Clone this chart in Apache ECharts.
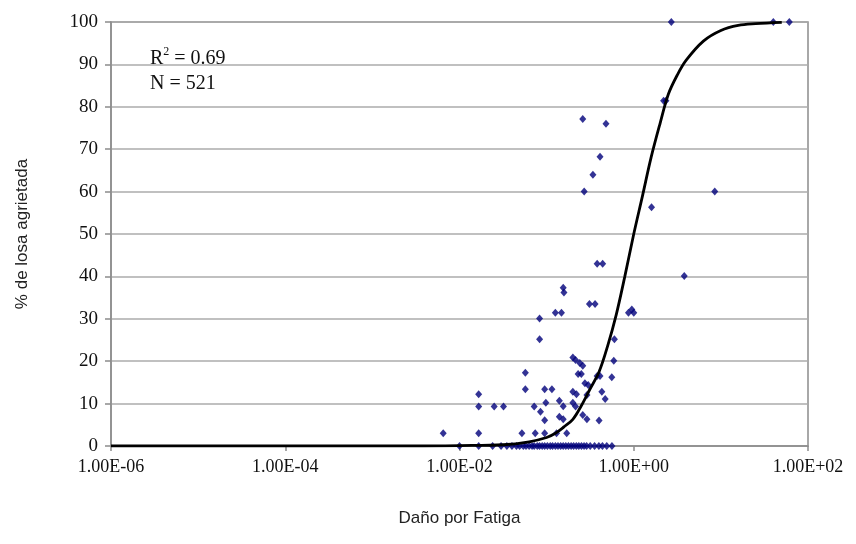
<!DOCTYPE html>
<html>
<head>
<meta charset="utf-8">
<script src="https://cdn.jsdelivr.net/npm/echarts@6/dist/echarts.min.js"></script>
<style>html,body{margin:0;padding:0;background:#fff}#c{width:856px;height:544px}</style>
</head>
<body>
<div id="c"></div>
<script>
// Scatter observations: fatigue damage (x) and % slab cracked (y)
const damageX = [
  2.7, 40, 61, 2.34, 2.2, 8.5, 1.6, 3.8,
  0.26, 0.48, 0.41, 0.34, 0.27, 0.38, 0.44, 0.155, 0.158, 0.31, 0.36, 0.126, 0.148, 0.083,
  0.95, 0.87, 1.0, 0.083, 0.6, 0.2, 0.215, 0.24, 0.26, 0.59, 0.057, 0.23, 0.25, 0.38, 0.41, 0.56,
  0.275, 0.30, 0.057, 0.095, 0.115, 0.2, 0.22, 0.43, 0.29, 0.47,
  0.0166, 0.0166, 0.025, 0.032, 0.072, 0.085, 0.098, 0.14, 0.155, 0.2, 0.215,
  0.14, 0.155, 0.095, 0.26, 0.29, 0.40,
  0.0065, 0.0166, 0.052, 0.074, 0.095, 0.13, 0.17,
  0.010, 0.0166, 0.024, 0.030, 0.035, 0.040, 0.045, 0.049, 0.054, 0.058, 0.063, 0.068, 0.072,
  0.078, 0.083, 0.089, 0.095, 0.102, 0.110, 0.117, 0.126, 0.135, 0.145, 0.155, 0.166, 0.178,
  0.191, 0.204, 0.219, 0.234, 0.251, 0.269, 0.288, 0.316, 0.355, 0.398, 0.437, 0.490, 0.562, 0.646
];
const crackedY = [
  100, 100, 100, 81.4, 81.4, 60, 56.3, 40.1,
  77.1, 76.0, 68.2, 64, 60, 43, 43, 37.3, 36.2, 33.5, 33.5, 31.4, 31.4, 30.1,
  32.2, 31.4, 31.4, 25.2, 25.2, 20.9, 20.3, 19.6, 18.9, 20.1, 17.3, 17.0, 17.0, 16.5, 16.5, 16.2,
  14.8, 14.4, 13.4, 13.4, 13.4, 12.8, 12.2, 12.8, 12.0, 11.1,
  12.2, 9.3, 9.3, 9.3, 9.3, 8.1, 10.2, 10.7, 9.4, 10.2, 9.3,
  6.9, 6.3, 6.1, 7.3, 6.3, 6.0,
  3.0, 3.0, 3.0, 3.0, 3.0, 3.0, 3.0,
  0, 0, 0, 0, 0, 0, 0, 0, 0, 0, 0, 0, 0,
  0, 0, 0, 0, 0, 0, 0, 0, 0, 0, 0, 0, 0,
  0, 0, 0, 0, 0, 0, 0, 0, 0, 0, 0, 0, 0
];
// Fitted transfer curve
const curveX = [1e-6, 0.003, 0.01, 0.0316, 0.063, 0.1, 0.126, 0.158, 0.2, 0.25, 0.316, 0.4, 0.5, 0.63, 0.79, 1, 1.26, 1.58, 2, 2.5, 3.16, 4, 6.3, 10, 15.8, 25, 50];
const curveY = [0, 0, 0.1, 0.3, 1.0, 2.0, 3.0, 4.5, 6.3, 9.5, 13.5, 17.5, 23.5, 31, 40, 50, 59, 68, 76, 83, 87.5, 91, 95.5, 98, 99.2, 99.6, 99.9];
const yTicks = [0, 10, 20, 30, 40, 50, 60, 70, 80, 90, 100];
const xTickLabels = ['1.00E-06', '1.00E-04', '1.00E-02', '1.00E+00', '1.00E+02'];
const annotationLines = ['R{sup|2} = 0.69', 'N = 521'];

const chart = echarts.init(document.getElementById('c'), null, {renderer: 'canvas'});
const serif = '"Liberation Serif", "Times New Roman", serif';
const sans = '"Liberation Sans", Arial, sans-serif';

function fmtX(v) {
  const e = Math.round(Math.log10(v));
  const lbl = xTickLabels.find(s => parseInt(s.slice(5), 10) === e);
  return lbl || '';
}

chart.setOption({
  animation: false,
  backgroundColor: '#ffffff',
  grid: {left: 111, right: 48, top: 22, bottom: 98, show: true, borderColor: '#8c8c8c', borderWidth: 1.5, backgroundColor: 'transparent'},
  xAxis: {
    type: 'log', logBase: 10, min: 1e-6, max: 100, interval: 2,
    axisLine: {show: true, lineStyle: {color: '#8c8c8c', width: 1.5}},
    axisTick: {show: true, length: 5, lineStyle: {color: '#8c8c8c', width: 1.5}},
    splitLine: {show: false},
    minorTick: {show: false},
    axisLabel: {formatter: fmtX, fontFamily: serif, fontSize: 18, color: '#111', margin: 12},
    name: 'Daño por Fatiga', nameLocation: 'middle', nameGap: 64,
    nameTextStyle: {fontFamily: sans, fontSize: 17, color: '#222'}
  },
  yAxis: {
    type: 'value', min: yTicks[0], max: yTicks[yTicks.length - 1], interval: 10,
    axisLine: {show: true, lineStyle: {color: '#8c8c8c', width: 1.5}},
    axisTick: {show: true, length: 6, lineStyle: {color: '#8c8c8c', width: 1.5}},
    splitLine: {show: true, lineStyle: {color: '#ababab', width: 1.5}},
    axisLabel: {fontFamily: serif, fontSize: 19, color: '#111', margin: 13},
    name: '% de losa agrietada', nameLocation: 'middle', nameGap: 80, nameRotate: 90,
    nameTextStyle: {fontFamily: sans, fontSize: 17, color: '#222'}
  },
  graphic: [{
    type: 'group', left: 143, top: 44, z: 100,
    children: [
      {type: 'rect', shape: {x: 0, y: 0, width: 101, height: 52}, style: {fill: '#fff'}},
      {type: 'text', x: 7, y: 2, style: {
        text: annotationLines.join('\n'), fontFamily: serif, fontSize: 20, fill: '#111', lineHeight: 25,
        rich: {sup: {fontSize: 12, verticalAlign: 'top', padding: [0, 0, 9, 0], fontFamily: serif, fill: '#111'}}
      }}
    ]
  }],
  series: [
    {
      type: 'scatter', name: 'obs',
      data: damageX.map((x, i) => [x, crackedY[i]]),
      symbol: 'diamond', symbolSize: [7, 8],
      itemStyle: {color: '#00007a'}, clip: false, z: 3
    },
    {
      type: 'line', name: 'fit',
      data: curveX.map((x, i) => [x, curveY[i]]),
      smooth: 0.35, showSymbol: false, symbol: 'none',
      lineStyle: {color: '#000', width: 2.8}, z: 4
    }
  ]
});
</script>
</body>
</html>
